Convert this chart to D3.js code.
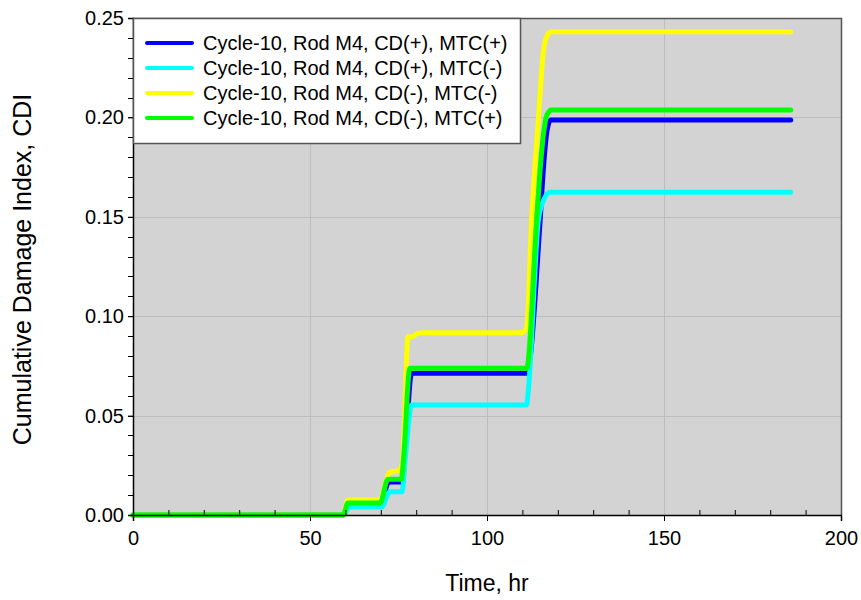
<!DOCTYPE html>
<html>
<head>
<meta charset="utf-8">
<script src="https://cdn.jsdelivr.net/npm/d3@7"></script>
<style>
  html, body { margin: 0; padding: 0; background: #ffffff; }
  svg { display: block; font-family: Arial, "Liberation Sans", sans-serif; }
</style>
</head>
<body>
<svg id="chart" width="861" height="600"></svg>
<script>
// Cumulative damage index histories, [time (hr), CDI]
const seriesNames = [
  "Cycle-10, Rod M4, CD(+), MTC(+)",
  "Cycle-10, Rod M4, CD(+), MTC(-)",
  "Cycle-10, Rod M4, CD(-), MTC(-)",
  "Cycle-10, Rod M4, CD(-), MTC(+)"
];
const seriesColors = ["#0000ff", "#00ffff", "#ffff00", "#00ff00"];

const cdPlusMtcPlus = [
  [0, 0], [59.4, 0], [60.7, 0.005], [69.8, 0.005], [72.3, 0.0166], [76.0, 0.0166],
  [76.8, 0.03], [78.7, 0.0713], [111.2, 0.0713], [115.0, 0.148], [115.9, 0.1735],
  [117.0, 0.1937], [118.0, 0.1987], [185.8, 0.1987]
];
const cdPlusMtcMinus = [
  [0, 0], [59.6, 0], [60.9, 0.004], [70.2, 0.004], [72.6, 0.0117], [76.0, 0.0117],
  [77.0, 0.03], [78.7, 0.0553], [111.2, 0.0553], [111.6, 0.061], [114.5, 0.148],
  [115.9, 0.158], [117.8, 0.1623], [185.8, 0.1623]
];
const cdMinusMtcMinus = [
  [0, 0], [59.4, 0], [60.7, 0.0075], [69.8, 0.0075], [71.5, 0.017], [72.5, 0.0215],
  [75.5, 0.0226], [76.3, 0.03], [77.7, 0.0897], [79.0, 0.0897], [80.0, 0.091],
  [81.5, 0.0917], [109.8, 0.0917], [111.2, 0.094], [112.6, 0.148], [114.5, 0.1987],
  [115.9, 0.2324], [117.0, 0.241], [118.2, 0.2431], [185.8, 0.2431]
];
const cdMinusMtcPlus = [
  [0, 0], [59.4, 0], [60.7, 0.006], [69.8, 0.006], [72.0, 0.018], [75.8, 0.018],
  [76.5, 0.03], [78.2, 0.0738], [111.2, 0.0738], [114.0, 0.148], [115.0, 0.1735],
  [116.1, 0.1937], [117.0, 0.2015], [118.2, 0.2037], [185.8, 0.2037]
];
const seriesData = [cdPlusMtcPlus, cdPlusMtcMinus, cdMinusMtcMinus, cdMinusMtcPlus];

const xTicks = [0, 50, 100, 150, 200];
const yTicks = [0, 0.05, 0.10, 0.15, 0.20, 0.25];
const xMinorTicks = d3.range(0, 201, 10);
const yMinorTicks = d3.range(0, 0.2501, 0.01);

const plot = { left: 133, right: 841, top: 18, bottom: 515 };

const svg = d3.select("#chart");
const x = d3.scaleLinear().domain([0, 200]).range([plot.left, plot.right]);
const y = d3.scaleLinear().domain([0, 0.25]).range([plot.bottom, plot.top]);

// plot background
svg.append("rect")
  .attr("x", plot.left).attr("y", plot.top)
  .attr("width", plot.right - plot.left).attr("height", plot.bottom - plot.top)
  .attr("fill", "#d3d3d3");

// grid lines at major ticks
const grid = svg.append("g").attr("stroke", "#bdbdbd").attr("stroke-width", 1);
grid.selectAll(".gx").data(xTicks.slice(1, -1)).join("line")
  .attr("x1", d => x(d) + 0.5).attr("x2", d => x(d) + 0.5)
  .attr("y1", plot.top).attr("y2", plot.bottom);
grid.selectAll(".gy").data(yTicks.slice(1, -1)).join("line")
  .attr("x1", plot.left).attr("x2", plot.right)
  .attr("y1", d => Math.round(y(d)) + 0.5).attr("y2", d => Math.round(y(d)) + 0.5);

// top and right frame
svg.append("path")
  .attr("d", `M${plot.left},${plot.top + 0.5}H${plot.right + 0.5}V${plot.bottom}`)
  .attr("fill", "none").attr("stroke", "#555").attr("stroke-width", 1.5);

// data lines
const line = d3.line().x(d => x(d[0])).y(d => y(d[1])).curve(d3.curveMonotoneX);
svg.append("g").selectAll("path").data(seriesData).join("path")
  .attr("d", line)
  .attr("fill", "none")
  .attr("stroke", (d, i) => seriesColors[i])
  .attr("stroke-width", 5)
  .attr("stroke-linejoin", "round")
  .attr("stroke-linecap", "round");

// axes
const xAxis = svg.append("g").attr("transform", `translate(0,${plot.bottom})`)
  .call(d3.axisBottom(x).tickValues(xTicks).tickFormat(d3.format("d")).tickSize(6).tickPadding(10));
const yAxis = svg.append("g").attr("transform", `translate(${plot.left},0)`)
  .call(d3.axisLeft(y).tickValues(yTicks).tickFormat(d3.format(".2f")).tickSize(5).tickPadding(4));

[xAxis, yAxis].forEach(g => {
  g.select(".domain").attr("stroke", "#000").attr("stroke-width", 1.5);
  g.selectAll(".tick line").attr("stroke", "#000");
  g.selectAll(".tick text").attr("font-size", 20).attr("fill", "#000")
    .attr("font-family", "Arial, 'Liberation Sans', sans-serif");
});

// minor ticks
svg.append("g").selectAll("line").data(xMinorTicks.filter(d => !xTicks.includes(d))).join("line")
  .attr("x1", d => x(d) + 0.5).attr("x2", d => x(d) + 0.5)
  .attr("y1", plot.bottom).attr("y2", plot.bottom - 5)
  .attr("stroke", "#000");
svg.append("g").selectAll("line").data(yMinorTicks).join("line")
  .attr("x1", plot.left - 5).attr("x2", plot.left)
  .attr("y1", d => Math.round(y(d)) + 0.5).attr("y2", d => Math.round(y(d)) + 0.5)
  .attr("stroke", "#000");

// axis titles
svg.append("text")
  .attr("x", (plot.left + plot.right) / 2).attr("y", 591)
  .attr("text-anchor", "middle").attr("font-size", 23)
  .text("Time, hr");
svg.append("text")
  .attr("transform", `translate(31,${(plot.top + plot.bottom) / 2 + 3}) rotate(-90)`)
  .attr("text-anchor", "middle").attr("font-size", 25)
  .text("Cumulative Damage Index, CDI");

// legend
const legend = svg.append("g");
legend.append("rect")
  .attr("x", plot.left + 0.5).attr("y", plot.top + 0.5)
  .attr("width", 387).attr("height", 125)
  .attr("fill", "#fff").attr("stroke", "#555").attr("stroke-width", 1.5);
const items = legend.selectAll("g.item").data(seriesNames).join("g")
  .attr("transform", (d, i) => `translate(0,${43 + i * 25})`);
items.append("line")
  .attr("x1", 147).attr("x2", 192).attr("y1", 0).attr("y2", 0)
  .attr("stroke", (d, i) => seriesColors[i]).attr("stroke-width", 4)
  .attr("stroke-linecap", "round");
items.append("text")
  .attr("x", 203).attr("y", 7)
  .attr("font-size", 20)
  .text(d => d);
</script>
</body>
</html>
